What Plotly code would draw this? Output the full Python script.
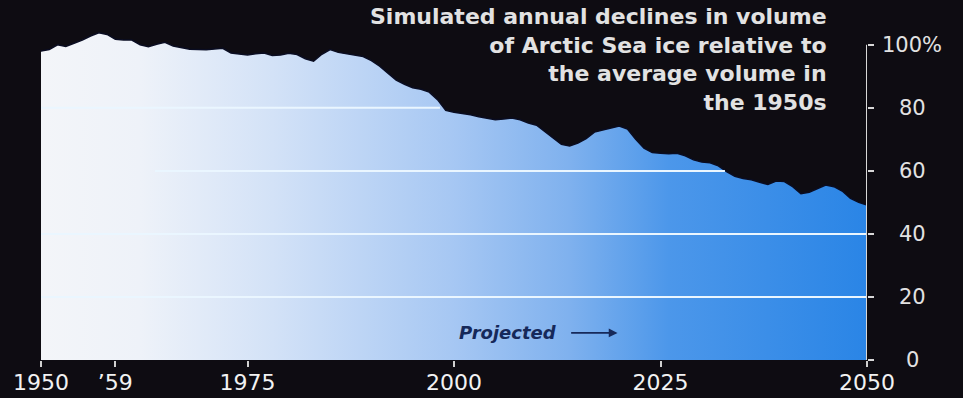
import plotly.graph_objects as go

# Simulated Arctic sea-ice volume, % of the 1950s average
years = list(range(1950, 2051))
volume_pct = [
    98.0, 98.5, 100.0, 99.5, 100.5, 101.5, 102.8, 103.8, 103.3, 101.8,   # 1950-59
    101.5, 101.5, 100.0, 99.4, 100.2, 100.8, 99.6, 99.0, 98.6, 98.5,     # 1960-69
    98.4, 98.7, 98.9, 97.4, 97.0, 96.8, 97.2, 97.4, 96.6, 96.8,          # 1970-79
    97.3, 96.9, 95.6, 94.8, 97.0, 98.5, 97.6, 97.2, 96.8, 96.3,          # 1980-89
    95.0, 93.2, 91.0, 88.8, 87.5, 86.4, 85.9, 85.0, 82.6, 79.2,          # 1990-99
    78.6, 78.3, 77.8, 77.2, 76.8, 76.2, 76.5, 76.8, 76.2, 75.2,          # 2000-09
    74.5, 72.5, 70.6, 68.4, 67.9, 68.8, 70.2, 72.3, 73.0, 73.6,          # 2010-19
    74.2, 73.3, 70.0, 67.2, 65.8, 65.6, 65.4, 65.6, 64.8, 63.5,          # 2020-29
    62.8, 62.6, 61.6, 59.8, 58.3, 57.6, 57.2, 56.4, 55.7, 56.8,          # 2030-39
    56.6, 55.0, 52.8, 53.2, 54.3, 55.5, 55.0, 53.6, 51.3, 50.0,          # 2040-49
    49.2,                                                                # 2050
]

x_tick_vals = [1950, 1959, 1975, 2000, 2025, 2050]
x_tick_text = ["1950", "’59", "1975", "2000", "2025", "2050"]
y_tick_vals = [0, 20, 40, 60, 80, 100]
y_tick_text = ["0", "20", "40", "60", "80", "100%"]

title_lines = [
    "Simulated annual declines in volume",
    "of Arctic Sea ice relative to",
    "the average volume in",
    "the 1950s",
]

BG = "#0e0c12"
TEXT = "#e2e2e2"
GRID = "#eaf6ff"

fig = go.Figure()

fig.add_trace(go.Scatter(
    x=years,
    y=volume_pct,
    mode="lines",
    line=dict(color="#0a0d22", width=1.5),
    fill="tozeroy",
    fillgradient=dict(
        type="horizontal",
        colorscale=[
            [0.00, "#f3f5f9"],
            [0.12, "#eef2f9"],
            [0.28, "#d3e2f7"],
            [0.50, "#a6c7f3"],
            [0.64, "#7fb1ee"],
            [0.76, "#4c97ea"],
            [1.00, "#2a85e6"],
        ],
    ),
    hoverinfo="skip",
    showlegend=False,
))

shapes = []
# white reference lines drawn inside the ice area
for y0, xa, xb in [(80, 1950, 1998.3), (60, 1963.8, 2032.8),
                   (40, 1950, 2050), (20, 1950, 2050)]:
    shapes.append(dict(type="line", xref="x", yref="y", x0=xa, x1=xb, y0=y0, y1=y0,
                       line=dict(color=GRID, width=2), layer="above"))
# right-hand value axis
shapes.append(dict(type="line", xref="x", yref="y", x0=2050, x1=2050, y0=-2, y1=100,
                   line=dict(color="#d8d8d8", width=2), layer="above"))

annotations = []
for v, t in zip(y_tick_vals, y_tick_text):
    annotations.append(dict(
        x=1.0545, xref="paper", y=v, yref="y", text=t, showarrow=False,
        xanchor="center", yanchor="middle",
        font=dict(family="DejaVu Sans", size=21, color=TEXT),
    ))

annotations.append(dict(
    x=(829 - 41) / 826, xref="paper", y=1.0, yref="paper", yshift=5,
    text="<br>".join(title_lines), showarrow=False, align="right",
    xanchor="right", yanchor="top",
    font=dict(family="DejaVu Sans", size=22, color=TEXT, weight="bold"),
))

annotations.append(dict(
    x=2006.5, y=8.6, xref="x", yref="y", text="<b><i>Projected</i></b>",
    showarrow=False, xanchor="center", yanchor="middle",
    font=dict(family="DejaVu Sans", size=18, color="#16295a"),
))
annotations.append(dict(
    x=2019.8, y=8.6, ax=2014.0, ay=8.6, xref="x", yref="y", axref="x", ayref="y",
    text="", showarrow=True, arrowhead=2, arrowsize=1.1, arrowwidth=1.6,
    arrowcolor="#16295a",
))

fig.update_layout(
    width=963, height=398,
    margin=dict(l=41, r=96, t=7, b=38),
    paper_bgcolor=BG, plot_bgcolor=BG,
    shapes=shapes, annotations=annotations,
    xaxis=dict(
        range=[1950, 2050], tickvals=x_tick_vals, ticktext=x_tick_text,
        ticks="outside", ticklen=6, tickwidth=2, tickcolor="#d0d0d0",
        tickfont=dict(family="DejaVu Sans", size=22, color="#f2f2f2"),
        ticklabelstandoff=-3, automargin=False,
        showgrid=False, zeroline=False, showline=False, fixedrange=True,
    ),
    yaxis=dict(
        range=[0, 112], side="right", tickvals=y_tick_vals,
        ticks="outside", ticklen=6, tickwidth=2, tickcolor="#d8d8d8",
        showticklabels=False, showgrid=False, zeroline=False, showline=False,
        fixedrange=True, automargin=False,
    ),
)

fig.write_html("out.html")
